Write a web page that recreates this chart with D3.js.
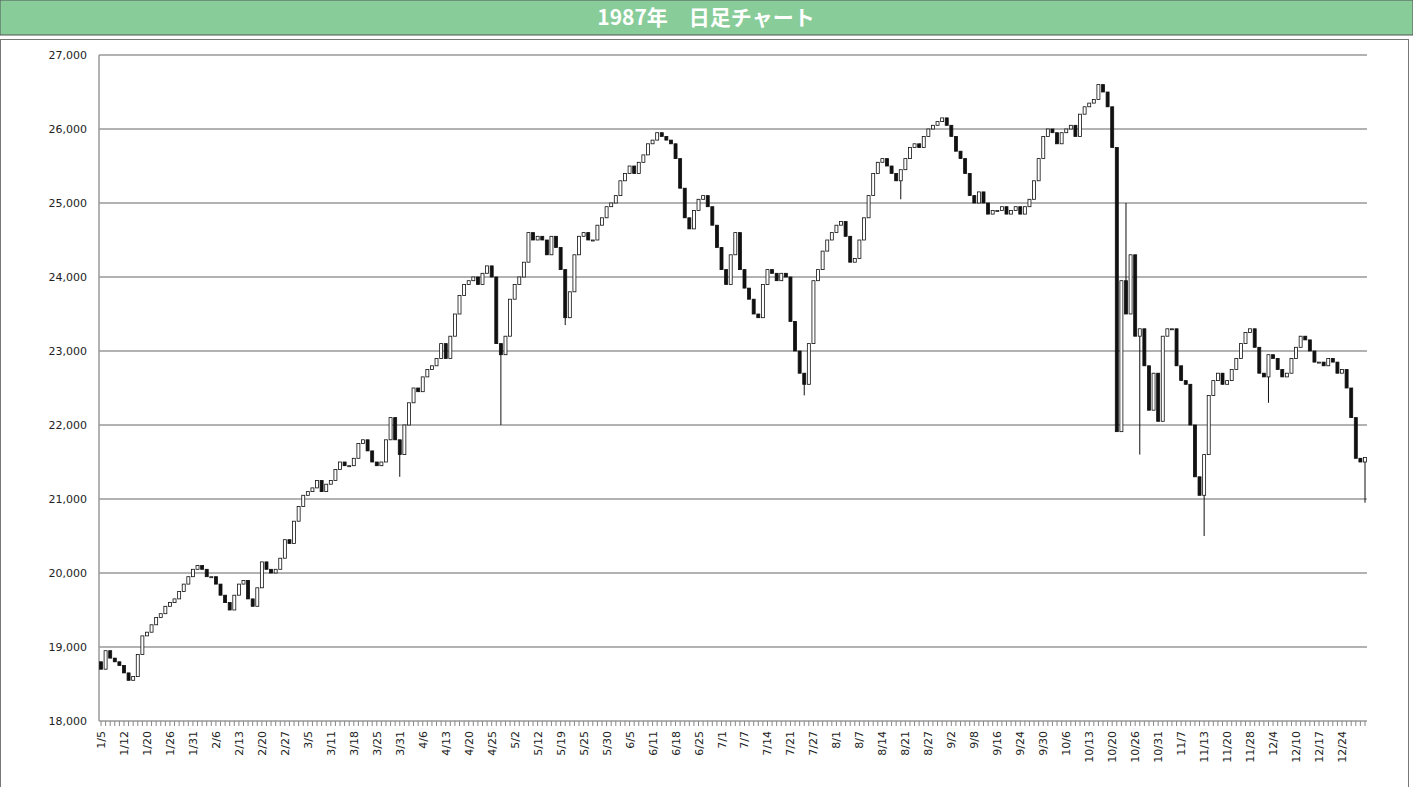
<!DOCTYPE html>
<html><head><meta charset="utf-8">
<script src="https://cdn.jsdelivr.net/npm/d3@7"></script>
<style>body{margin:0;background:#fff;overflow:hidden}</style></head>
<body><svg id="c" width="1413" height="787"></svg>
<script>
const title = "1987年　日足チャート";
const tickLabels = ["1/5","1/12","1/20","1/26","1/31","2/6","2/13","2/20","2/27","3/5","3/11","3/18","3/25","3/31","4/6","4/13","4/20","4/25","5/2","5/12","5/19","5/25","5/30","6/5","6/11","6/18","6/25","7/1","7/7","7/14","7/21","7/27","8/1","8/7","8/14","8/21","8/27","9/2","9/8","9/16","9/24","9/30","10/6","10/13","10/20","10/26","10/31","11/7","11/13","11/20","11/28","12/4","12/10","12/17","12/24"];
const yTicks = [18000,19000,20000,21000,22000,23000,24000,25000,26000,27000];
const firstOpen = 18800;
const closes = [
18700,18950,18850,18800,18750, 18650,18550,18600,18900,19150, 19200,19300,19400,19450,19550,
19600,19650,19750,19850,19950, 20050,20100,20050,19950,19950, 19850,19700,19600,19500,19700,
19850,19900,19650,19550,19800, 20150,20050,20000,20050,20200, 20450,20400,20700,20900,21050,
21100,21150,21250,21100,21200, 21250,21400,21500,21450,21450, 21550,21750,21800,21650,21500,
21450,21500,21800,22100,21800, 21600,22000,22300,22500,22450, 22650,22750,22800,22900,23100,
22900,23200,23500,23750,23900, 23950,24000,23900,24050,24150, 24000,23100,22950,23200,23700,
23900,24000,24200,24600,24500, 24550,24500,24300,24550,24400, 24100,23450,23800,24300,24550,
24600,24500,24500,24700,24800, 24950,25000,25100,25300,25400, 25500,25400,25550,25650,25800,
25850,25950,25900,25850,25800, 25600,25200,24800,24650,24900, 25050,25100,24950,24700,24400,
24100,23900,24300,24600,24100, 23850,23700,23500,23450,23900, 24100,24050,23950,24050,24000,
23400,23000,22700,22550,23100, 23950,24100,24350,24500,24600, 24700,24750,24550,24200,24250,
24500,24800,25100,25400,25550, 25600,25500,25400,25300,25450, 25600,25750,25800,25750,25900,
26000,26050,26100,26150,26050, 25900,25700,25600,25400,25100, 25000,25150,25000,24850,24900,
24900,24950,24850,24900,24950, 24850,24950,25050,25300,25600, 25900,26000,25950,25800,25950,
26000,26050,25900,26200,26300, 26350,26400,26600,26500,26300, 25750,21910,23950,23500,24300,
23200,23300,22800,22200,22700, 22050,23200,23300,23300,22800, 22600,22550,22000,21300,21050,
21600,22400,22600,22700,22550, 22600,22750,22900,23100,23250, 23300,23050,22700,22650,22950,
22900,22750,22650,22700,22900, 23050,23200,23150,23000,22850, 22850,22800,22900,22850,22700,
22750,22500,22100,21550,21500,21560];
const wickIdx  = [87, 101, 65, 153, 174, 223, 226, 240, 254, 275];
const wickLow  = [22000,23350,21300,22400,25050,null,21600,20500,22300,20950];
const wickHigh = [null,null,null,null,null,25000,null,null,null,null];

const svg = d3.select("#c");
svg.append("rect").attr("x",0).attr("y",0).attr("width",1413).attr("height",35).attr("fill","#88cc99").attr("stroke","#555");
svg.append("text").attr("x",706).attr("y",25).attr("text-anchor","middle").attr("fill","#fff")
  .attr("font-family","'Noto Sans CJK JP'").attr("font-weight","bold").attr("font-size",21).text(title);
svg.append("rect").attr("x",0.5).attr("y",39.5).attr("width",1408).attr("height",760).attr("fill","none").attr("stroke","#777");

const L=99, R=1367, T=55, B=721;
const x = d3.scaleLinear().domain([0, closes.length-1]).range([101, 1365]);
const y = d3.scaleLinear().domain([18000,27000]).range([B,T]);

const g = svg.append("g");
g.selectAll(".grid").data(yTicks).join("line").attr("x1",L).attr("x2",R)
  .attr("y1",d=>y(d)).attr("y2",d=>y(d)).attr("stroke","#999").attr("stroke-width",1.5);
g.append("line").attr("x1",L).attr("x2",L).attr("y1",T).attr("y2",B).attr("stroke","#999").attr("stroke-width",1.5);
g.selectAll(".yl").data(yTicks).join("text").attr("x",87).attr("y",d=>y(d)+4).attr("text-anchor","end")
  .attr("font-family","Verdana, 'DejaVu Sans'").attr("font-size",11).attr("fill","#222").text(d=>d3.format(",")(d));
g.selectAll(".mt").data(d3.range(closes.length)).join("line").attr("x1",d=>x(d)).attr("x2",d=>x(d))
  .attr("y1",B).attr("y2",B+5).attr("stroke","#888");
g.selectAll(".xl").data(tickLabels).join("text")
  .attr("transform",(d,i)=>`translate(${x(i*5)+4},${B+10}) rotate(-90)`).attr("text-anchor","end")
  .attr("font-family","Verdana, 'DejaVu Sans'").attr("font-size",11).attr("fill","#222").text(d=>d);

const data = closes.map((c,i)=>{
  const o = i===0?firstOpen:closes[i-1];
  let hi=Math.max(o,c), lo=Math.min(o,c);
  const k = wickIdx.indexOf(i);
  if(k>=0){ if(wickLow[k]!=null) lo=Math.min(lo,wickLow[k]); if(wickHigh[k]!=null) hi=Math.max(hi,wickHigh[k]); }
  return {i,o,c,hi,lo};
});
const cg = svg.append("g");
cg.selectAll(".w").data(data).join("line").attr("x1",d=>x(d.i)).attr("x2",d=>x(d.i))
  .attr("y1",d=>y(d.hi)).attr("y2",d=>y(d.lo)).attr("stroke","#111").attr("stroke-width",1);
cg.selectAll(".b").data(data).join("rect").attr("x",d=>x(d.i)-1.5).attr("width",3)
  .attr("y",d=>y(Math.max(d.o,d.c))).attr("height",d=>Math.max(1,Math.abs(y(d.o)-y(d.c))))
  .attr("fill",d=>d.c>=d.o?"#fff":"#111").attr("stroke","#111").attr("stroke-width",0.8);
</script></body></html>
